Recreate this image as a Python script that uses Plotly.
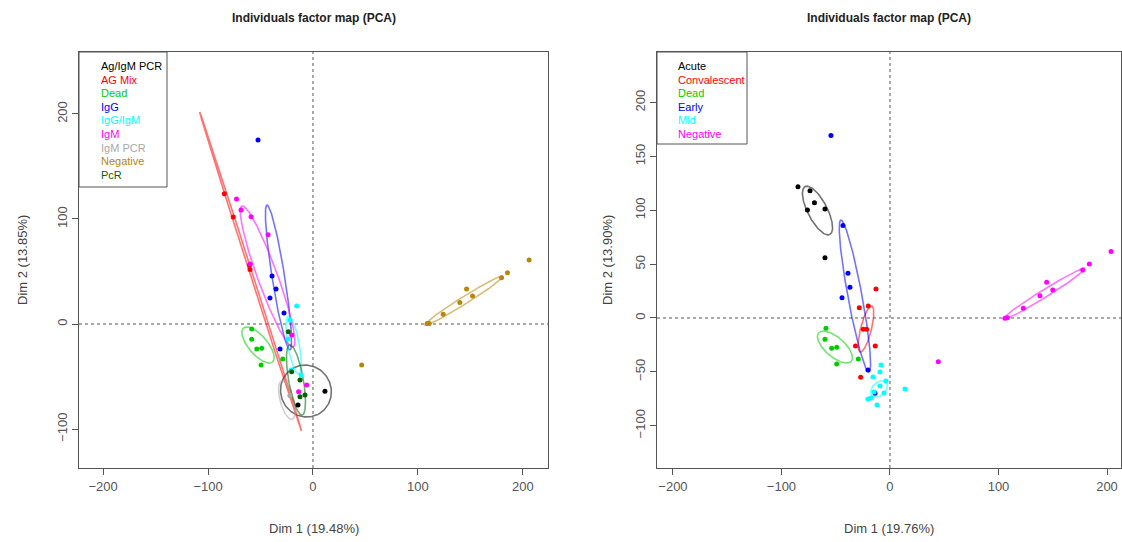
import numpy as np
import plotly.graph_objects as go

# ---------------- data: left panel ----------------
left_groups = ["Ag/IgM PCR", "AG Mix", "Dead", "IgG", "IgG/IgM", "IgM", "IgM PCR", "Negative", "PcR"]
left_colors = ["#000000", "#FF0000", "#00CD00", "#0000FF", "#00FFFF", "#FF00FF", "#A9A9A9", "#B8860B", "#006400"]

left_x = {
    "Ag/IgM PCR": [11.4, -14.3],
    "AG Mix": [-84.5, -76.0, -60.5, -60.0],
    "Dead": [-58.4, -58.4, -53.6, -48.9, -49.5, -28.8],
    "IgG": [-52.4, -39.0, -35.2, -41.0, -27.6, -31.4],
    "IgG/IgM": [-15.5, -21.9, -23.8, -11.4, -20.9],
    "IgM": [-72.9, -68.6, -59.0, -42.8, -59.9, -20.3, -6.0, -13.7],
    "IgM PCR": [-22.0],
    "Negative": [206.0, 185.4, 179.7, 146.4, 152.1, 140.0, 124.1, 108.9, 110.8, 46.4],
    "PcR": [-23.5, -20.3, -12.4, -7.6, -12.4],
}
left_y = {
    "Ag/IgM PCR": [-64.0, -77.1],
    "AG Mix": [124.0, 102.0, 56.0, 52.0],
    "Dead": [-4.8, -14.6, -23.8, -23.1, -39.0, -33.3],
    "IgG": [175.2, 45.7, 33.3, 24.8, 10.5, -23.8],
    "IgG/IgM": [17.1, 3.8, -14.3, -48.6, -43.8],
    "IgM": [119.0, 108.6, 102.2, 85.1, 57.1, -10.5, -58.1, -64.4],
    "IgM PCR": [-68.0],
    "Negative": [61.0, 48.9, 44.1, 33.3, 26.7, 20.6, 9.2, 0.6, 0.6, -39.0],
    "PcR": [-7.3, -45.4, -69.2, -67.6, -53.3],
}
# ellipses: centre x, centre y, semi-major, semi-minor, angle (deg)
left_ell = {
    "Ag/IgM PCR": [-6.7, -63.8, 25.0, 24.0, -60.0],
    "AG Mix": [-59.5, 50.0, 159.5, 1.2, -72.3],
    "Dead": [-52.4, -20.0, 21.3, 9.0, -49.6],
    "IgG": [-32.9, 44.3, 69.9, 6.0, -81.0],
    "IgG/IgM": [-18.5, -20.0, 28.0, 5.5, -80.0],
    "IgM": [-43.3, 45.2, 71.4, 9.5, -70.0],
    "IgM PCR": [-24.8, -72.4, 19.0, 6.5, -75.0],
    "Negative": [144.0, 22.4, 44.0, 3.5, 32.0],
    "PcR": [-16.2, -53.3, 34.0, 7.0, -80.0],
}

# ---------------- data: right panel ----------------
right_groups = ["Acute", "Convalescent", "Dead", "Early", "Mid", "Negative"]
right_colors = ["#000000", "#FF0000", "#00CD00", "#0000FF", "#00FFFF", "#FF00FF"]

right_x = {
    "Acute": [-84.8, -73.7, -69.6, -76.1, -59.9, -59.9],
    "Convalescent": [-12.9, -28.3, -20.0, -24.6, -21.5, -31.8, -13.6, -27.0],
    "Dead": [-59.0, -59.9, -53.7, -49.1, -49.1, -29.2],
    "Early": [-54.4, -43.3, -38.7, -36.9, -44.2, -20.3, -13.8],
    "Mid": [-8.3, -9.2, -15.7, -3.7, -9.2, -14.7, -5.5, 13.8, -20.3, -12.0, -17.5],
    "Negative": [203.7, 183.7, 177.6, 144.4, 150.0, 138.2, 122.9, 108.1, 106.0, 44.5],
}
right_y = {
    "Acute": [121.9, 118.1, 107.1, 100.3, 101.2, 56.0],
    "Convalescent": [26.9, 9.6, 11.1, -10.5, -10.5, -26.0, -26.0, -55.1],
    "Dead": [-9.6, -19.8, -28.1, -27.2, -42.7, -38.0],
    "Early": [169.4, 85.9, 41.6, 28.5, 18.8, -48.3, -70.0],
    "Mid": [-43.6, -50.1, -54.8, -58.5, -63.1, -68.7, -69.6, -65.9, -75.2, -80.8, -74.3],
    "Negative": [61.8, 50.1, 44.6, 33.1, 26.0, 20.7, 9.0, 0.3, -0.3, -40.6],
}
right_ell = {
    "Acute": [-66.8, 99.8, 25.0, 9.0, -63.0],
    "Convalescent": [-22.1, -10.2, 22.0, 5.0, 76.0],
    "Dead": [-50.7, -27.0, 20.0, 9.0, -41.5],
    "Early": [-32.3, 20.4, 71.7, 6.5, -79.6],
    "Mid": [-10.1, -65.9, 9.0, 6.0, 45.0],
    "Negative": [142.0, 22.5, 44.5, 3.5, 32.0],
}

x_ticks = [-200, -100, 0, 100, 200]
left_y_ticks = [-100, 0, 100, 200]
right_y_ticks = [-100, -50, 0, 50, 100, 150, 200]

titles = ["Individuals factor map (PCA)", "Individuals factor map (PCA)"]
x_titles = ["Dim 1 (19.48%)", "Dim 1 (19.76%)"]
y_titles = ["Dim 2 (13.85%)", "Dim 2 (13.90%)"]

# ---------------- layout constants ----------------
W, H = 1122, 542
T, B = 52, 74
PH = H - T - B


def px2paper_x(px):
    return px / W


def px2paper_y(py):
    return (H - B - py) / PH


def ellipse(cx, cy, a, b, ang):
    t = np.linspace(0, 2 * np.pi, 200)
    th = np.deg2rad(ang)
    ex = a * np.cos(t)
    ey = b * np.sin(t)
    return cx + ex * np.cos(th) - ey * np.sin(th), cy + ex * np.sin(th) + ey * np.cos(th)


def hex_rgba(h, a):
    h = h.lstrip("#")
    r, g, b = int(h[0:2], 16), int(h[2:4], 16), int(h[4:6], 16)
    return f"rgba({r},{g},{b},{a})"


fig = go.Figure()

panels = [
    ("x", "y", left_groups, left_colors, left_x, left_y, left_ell),
    ("x2", "y2", right_groups, right_colors, right_x, right_y, right_ell),
]

for xa, ya, groups, colors, gx, gy, gell in panels:
    for g, c in zip(groups, colors):
        ex, ey = ellipse(*gell[g])
        fig.add_trace(go.Scatter(x=ex, y=ey, mode="lines", xaxis=xa, yaxis=ya,
                                 line=dict(color=hex_rgba(c, 0.55), width=1.6),
                                 hoverinfo="skip", showlegend=False))
    for g, c in zip(groups, colors):
        fig.add_trace(go.Scatter(x=gx[g], y=gy[g], mode="markers", xaxis=xa, yaxis=ya,
                                 marker=dict(color=c, size=5), name=g, showlegend=False))

font_fam = "Liberation Sans, Arial"
axis_common = dict(showgrid=False, zeroline=False, showline=True, mirror=True,
                   linecolor="#555555", linewidth=1, ticks="outside", ticklen=6,
                   tickcolor="#555555", tickfont=dict(family=font_fam, size=13, color="#555555"))

fig.update_layout(
    width=W, height=H,
    margin=dict(l=0, r=0, t=T, b=B),
    paper_bgcolor="white", plot_bgcolor="white",
    showlegend=False,
    xaxis=dict(domain=[px2paper_x(79), px2paper_x(548)], range=[-223, 224], tickvals=x_ticks, **axis_common),
    yaxis=dict(domain=[0, 1], range=[-137.1, 259], tickvals=left_y_ticks, tickangle=-90, anchor="x", **axis_common),
    xaxis2=dict(domain=[px2paper_x(657), px2paper_x(1121)], range=[-214.7, 212.9], tickvals=x_ticks, anchor="y2", **axis_common),
    yaxis2=dict(domain=[0, 1], range=[-139.3, 247], tickvals=right_y_ticks, tickangle=-90, anchor="x2", **axis_common),
)

# dashed zero lines
for xa, ya in [("x", "y"), ("x2", "y2")]:
    fig.add_shape(type="line", xref=xa, yref=f"{ya} domain", x0=0, x1=0, y0=0, y1=1,
                  line=dict(color="#555555", width=1, dash="3px,3px"), layer="below")
    fig.add_shape(type="line", xref=f"{xa} domain", yref=ya, x0=0, x1=1, y0=0, y1=0,
                  line=dict(color="#555555", width=1, dash="3px,3px"), layer="below")

centers = [(79 + 548) / 2, (657 + 1121) / 2]
ytitle_px = [22, 607]
for i in range(2):
    fig.add_annotation(text=f"<b>{titles[i]}</b>", xref="paper", yref="paper",
                       x=px2paper_x(centers[i]), y=px2paper_y(18), showarrow=False,
                       xanchor="center", yanchor="middle",
                       font=dict(family=font_fam, size=12, color="#222222"))
    fig.add_annotation(text=x_titles[i], xref="paper", yref="paper",
                       x=px2paper_x(centers[i]), y=px2paper_y(528), showarrow=False,
                       xanchor="center", yanchor="middle",
                       font=dict(family=font_fam, size=13, color="#444444"))
    fig.add_annotation(text=y_titles[i], xref="paper", yref="paper", textangle=-90,
                       x=px2paper_x(ytitle_px[i]), y=px2paper_y(260), showarrow=False,
                       xanchor="center", yanchor="middle",
                       font=dict(family=font_fam, size=13, color="#444444"))

# legends (R style: coloured text inside a box)
legend_specs = [
    (left_groups, left_colors, 79, 167, 187, 99),
    (right_groups, right_colors, 657, 747, 144, 676),
]
for groups, colors, x0, x1, ybot, tx in legend_specs:
    fig.add_shape(type="rect", xref="paper", yref="paper",
                  x0=px2paper_x(x0), x1=px2paper_x(x1), y0=px2paper_y(52), y1=px2paper_y(ybot),
                  line=dict(color="#555555", width=1), fillcolor="white", layer="above")
    for k, (g, c) in enumerate(zip(groups, colors)):
        fig.add_annotation(text=g, xref="paper", yref="paper", x=px2paper_x(tx),
                           y=px2paper_y(66 + 13.6 * k), xanchor="left", yanchor="middle",
                           showarrow=False, font=dict(family=font_fam, size=11, color=c))

fig.write_html("out.html")
